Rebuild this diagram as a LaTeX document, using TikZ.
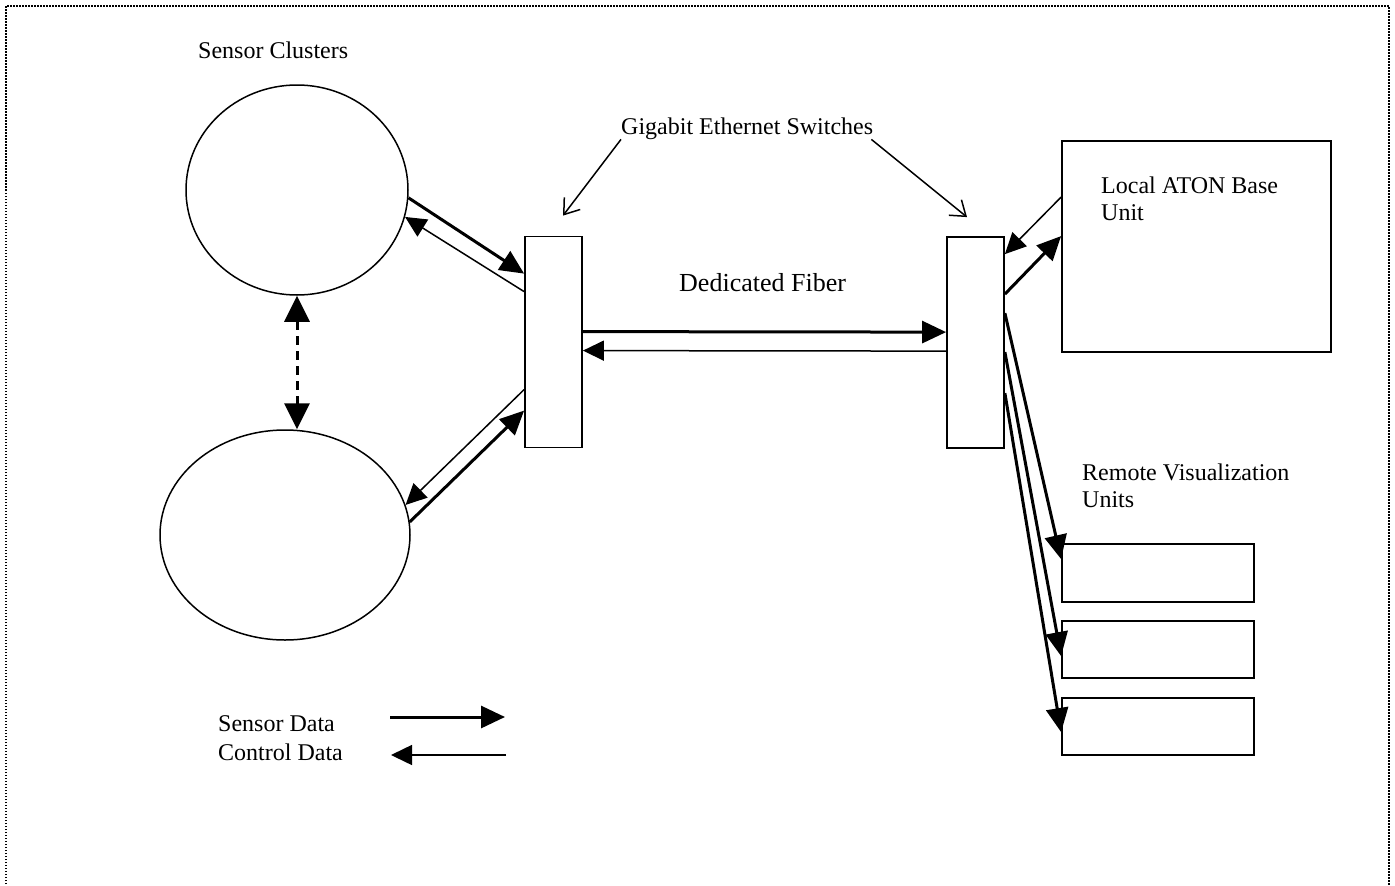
\documentclass[tikz,border=0pt]{standalone}
\usepackage{fontspec}
\setmainfont{Liberation Serif}
\usetikzlibrary{arrows.meta,shapes.geometric}
\begin{document}
\begin{tikzpicture}[x=1pt,y=-1pt,
  lbl/.style={inner sep=0pt,font=\fontsize{24}{27}\selectfont},
  cluster/.style={ellipse,draw,line width=1.5pt,inner sep=0pt},
  box/.style={rectangle,draw,line width=1.8pt,inner sep=0pt},
  sdata/.style={line width=3pt,-{Triangle[length=24pt,width=22pt]}},
  cdata/.style={line width=1.5pt,-{Triangle[length=21pt,width=20pt]}},
  pointer/.style={line width=1.5pt,-{Straight Barb[length=14pt,width=20pt,line width=1.5pt]}},
  frame/.style={line width=1.5pt,dash pattern=on 1.5pt off 1.5pt}]
\useasboundingbox (0,0) rectangle (1395,886);
\draw[frame] (6,890) -- (6,6) -- (1389,6) -- (1389,890);

% nodes
\node[cluster,minimum width=222pt,minimum height=210pt] (e1) at (297,190) {};
\node[cluster,minimum width=250pt,minimum height=210pt] (e2) at (285,535) {};
\node[box,minimum width=57pt,minimum height=211pt] (sw1) at (553.5,342) {};
\node[box,minimum width=57pt,minimum height=211pt] (sw2) at (975.5,342.5) {};
\node[box,minimum width=269pt,minimum height=211pt] (aton) at (1196.5,246.5) {};
\node[box,minimum width=192pt,minimum height=58pt] (rv1) at (1158,573) {};
\node[box,minimum width=192pt,minimum height=57pt] (rv2) at (1158,649.5) {};
\node[box,minimum width=192pt,minimum height=57pt] (rv3) at (1158,726.5) {};

% labels
\node[lbl,anchor=base west] (tsc) at (198,58) {Sensor Clusters};
\node[lbl,anchor=base west] (gig) at (621,134) {Gigabit Ethernet Switches};
\node[lbl,anchor=base west,font=\fontsize{26}{30}\selectfont] (fib) at (679,291) {Dedicated Fiber};
\node[lbl,anchor=north west,align=left] (tat) at (1101,176.5) {Local ATON Base\\Unit};
\node[lbl,anchor=north west,align=left] (trv) at (1082,463.5) {Remote Visualization\\Units};
\node[lbl,anchor=base west] (tsd) at (218,731) {Sensor Data};
\node[lbl,anchor=base west] (tcd) at (218,760) {Control Data};

% pointers to switches
\draw[pointer] (gig.south west) -- ([xshift=9.5pt,yshift=20pt]sw1.north);
\draw[pointer] ([xshift=-2pt]gig.south east) -- ([xshift=-8.5pt,yshift=19pt]sw2.north);

% clusters <-> left switch
\draw[sdata] (e1.-4) -- ([yshift=-38pt]sw1.north west);
\draw[cdata] ([yshift=-56pt]sw1.north west) -- (e1.-14);
\draw[cdata] ([yshift=-154pt]sw1.north west) -- (e2.14);
\draw[sdata] (e2.6) -- ([yshift=-175pt]sw1.north west);

% cluster <-> cluster
\draw[line width=3pt,dash pattern=on 9pt off 6pt,
  {Triangle[length=26pt,width=25pt]}-{Triangle[length=26pt,width=25pt]}]
  (e1.south) -- (e1.south |- e2.north);

% fiber
\draw[sdata] ([yshift=-96pt]sw1.north east) -- ([yshift=-96pt]sw2.north west);
\draw[cdata] ([yshift=-115pt]sw2.north west) -- ([yshift=-115pt]sw1.north east);

% right switch <-> base unit
\draw[cdata] ([yshift=-57pt]aton.north west) -- ([yshift=-18pt]sw2.north east);
\draw[sdata] ([yshift=-58pt]sw2.north east) -- ([yshift=-96pt]aton.north west);

% right switch -> remote units
\draw[sdata] ([yshift=-77pt]sw2.north east) -- ([yshift=-16pt]rv1.north west);
\draw[sdata] ([yshift=-116pt]sw2.north east) -- ([yshift=-36pt]rv2.north west);
\draw[sdata] ([yshift=-157pt]sw2.north east) -- ([yshift=-35pt]rv3.north west);

% legend
\coordinate (ls1) at (390,717);
\coordinate (ls2) at (505,717);
\coordinate (lc1) at (506,755);
\coordinate (lc2) at (391,755);
\draw[sdata] (ls1) -- (ls2);
\draw[cdata] (lc1) -- (lc2);
\end{tikzpicture}
\end{document}
